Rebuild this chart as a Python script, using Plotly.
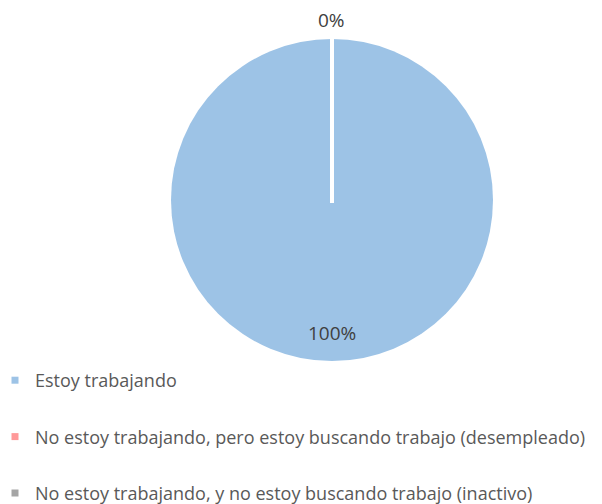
import plotly.graph_objects as go

categories = [
    "Estoy trabajando",
    "No estoy trabajando, pero estoy buscando trabajo (desempleado)",
    "No estoy trabajando, y no estoy buscando trabajo (inactivo)",
]
values = [100, 0, 0]
colors = ["#9DC3E6", "#FF9999", "#A5A5A5"]

total = sum(values)
pct = [f"{round(v / total * 100)}%" for v in values]

W, H = 602, 504
fig = go.Figure()

fig.add_trace(go.Pie(
    labels=categories, values=values, sort=False, direction="clockwise",
    rotation=0, marker=dict(colors=colors, line=dict(width=0)),
    textinfo="none", hoverinfo="label+percent", showlegend=False,
    domain=dict(x=[171 / W, 493 / W], y=[1 - 361 / H, 1 - 39 / H]),
))

for c, col in zip(categories, colors):
    fig.add_trace(go.Scatter(
        x=[None], y=[None], mode="markers", name=c, legendgroup=c,
        marker=dict(symbol="square", size=7, color=col),
    ))

font = "'Open Sans', sans-serif"
fig.update_layout(
    width=W, height=H, margin=dict(l=0, r=0, t=0, b=0, autoexpand=False),
    paper_bgcolor="white", plot_bgcolor="white",
    xaxis=dict(visible=False), yaxis=dict(visible=False),
    font=dict(family=font, color="#595959", size=18),
    legend=dict(x=-5 / W, xanchor="left", y=1 - 362 / H, yanchor="top",
                tracegroupgap=30, font=dict(size=18, color="#595959"),
                bgcolor="rgba(0,0,0,0)", itemclick=False),
    shapes=[dict(type="line", xref="paper", yref="paper",
                 x0=332 / W, x1=332 / W, y0=1 - 39 / H, y1=1 - 203 / H,
                 line=dict(color="white", width=4))],
    annotations=[
        dict(text=pct[0], x=332 / W, y=1 - 333 / H, xref="paper", yref="paper",
             xanchor="center", yanchor="middle", showarrow=False,
             font=dict(size=19, color="#404040", family=font)),
        dict(text=pct[1], x=332 / W, y=1 - 20 / H, xref="paper", yref="paper",
             xanchor="center", yanchor="middle", showarrow=False,
             font=dict(size=19, color="#404040", family=font)),
    ],
)

fig.write_html("out.html", config={"displayModeBar": False},
               post_script="document.body.style.margin='0';document.body.style.overflow='hidden';")
